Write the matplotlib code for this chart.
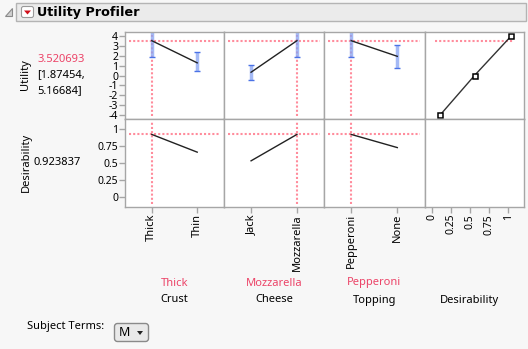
import matplotlib
matplotlib.use("Agg")
import matplotlib.pyplot as plt
from matplotlib.patches import Rectangle, FancyBboxPatch, Polygon

plt.rcParams['font.family'] = ['Noto Sans', 'DejaVu Sans']

W, H = 528, 349

# data
factors = ["Crust", "Cheese", "Topping"]
levels = [["Thick", "Thin"], ["Jack", "Mozzarella"], ["Pepperoni", "None"]]
current = ["Thick", "Mozzarella", "Pepperoni"]
util = [[3.52, 1.28], [0.33, 3.52], [3.52, 1.94]]
util_lo = [[1.87, 0.45], [-0.49, 1.87], [1.87, 0.79]]
util_hi = [[5.17, 2.35], [1.03, 5.17], [5.17, 3.06]]
desir = [[0.924, 0.664], [0.537, 0.924], [0.924, 0.731]]
pred_util = 3.520693
pred_ci = [1.87454, 5.16684]
pred_des = 0.923837
# desirability function (desirability -> utility)
dfun_x = [0.11, 0.56, 1.04]
dfun_y = [-4, 0, 4]
util_ticks = [4, 3, 2, 1, 0, -1, -2, -3, -4]
des_ticks = [0, 0.25, 0.5, 0.75, 1]

bg = "#f7f7f7"
grid = "#a6a6a6"
red = "#ec4468"
refc = "#ff8c9c"
bar_c = "#86a2f2"
cap_c = "#4a72e6"

fig = plt.figure(figsize=(W / 100, H / 100), dpi=100, facecolor=bg)


def px_axes(x0, y0, x1, y1):
    return fig.add_axes([x0 / W, 1 - y1 / H, (x1 - x0) / W, (y1 - y0) / H])


def style(ax):
    ax.set_facecolor("white")
    for s in ax.spines.values():
        s.set_color(grid)
        s.set_linewidth(1)
    ax.tick_params(colors=grid, labelcolor="black", length=4, width=1,
                   labelsize=7.5, pad=1)


cols = [(125, 224), (224, 324), (324, 424.5), (424.5, 524)]
rows = [(32, 119), (119, 207)]
ulim = (-4.4, 4.4)
dlim = (-0.14, 1.15)

for j in range(4):
    x0, x1 = cols[j]
    axu = px_axes(x0, rows[0][0], x1, rows[0][1])
    axd = px_axes(x0, rows[1][0], x1, rows[1][1])
    for ax in (axu, axd):
        style(ax)
    axu.set_ylim(*ulim)
    axd.set_ylim(*dlim)
    axu.set_xticks([])
    if j == 0:
        axu.set_yticks(util_ticks)
        axu.set_yticklabels([str(t) for t in util_ticks])
        axd.set_yticks(des_ticks)
        axd.set_yticklabels(["0", "0.25", "0.5", "0.75", "1"])
    else:
        axu.set_yticks([])
        axd.set_yticks([])

    if j < 3:
        xs = [0, 1]
        for ax in (axu, axd):
            ax.set_xlim(-0.59, 1.59)
        cur = levels[j].index(current[j])
        # utility row
        axu.axhline(pred_util, 0.04, 0.96, color=refc, lw=1.5, ls=(0, (1, 1)))
        axu.axvline(xs[cur], 0.03, 0.97, color=refc, lw=1.5, ls=(0, (1, 1)))
        axu.vlines(xs, util_lo[j], util_hi[j], color=bar_c, lw=2.5, alpha=0.75)
        axu.plot(xs, util_lo[j], ls="none", marker="_", ms=5, mew=1, color=cap_c)
        axu.plot(xs, util_hi[j], ls="none", marker="_", ms=5, mew=1, color=cap_c)
        axu.plot(xs, util[j], color="#222222", lw=1)
        # desirability row
        axd.axhline(pred_des, 0.04, 0.96, color=refc, lw=1.5, ls=(0, (1, 1)))
        axd.axvline(xs[cur], 0.03, 0.97, color=refc, lw=1.5, ls=(0, (1, 1)))
        axd.plot(xs, desir[j], color="#222222", lw=1)
        axd.set_xticks(xs)
        axd.set_xticklabels(levels[j], rotation=90, fontsize=8)
        cx = (x0 + x1) / 2
        fig.text(cx / W, 1 - 283 / H, current[j], color=red, fontsize=8,
                 ha="center", va="center")
        fig.text(cx / W, 1 - 300 / H, factors[j], color="black", fontsize=8,
                 ha="center", va="center")
    else:
        for ax in (axu, axd):
            ax.set_xlim(-0.094, 1.207)
        axu.plot([0.043, 1.076], [pred_util, pred_util], color=refc, lw=1.5,
                 ls=(0, (1, 1)))
        axu.plot(dfun_x, dfun_y, color="#333333", lw=1, marker="s", ms=3.6,
                 mfc="white", mec="black", mew=1.1, clip_on=False)
        axd.set_xticks(des_ticks)
        axd.set_xticklabels(["0", "0.25", "0.5", "0.75", "1"], rotation=90,
                            fontsize=7.5)
        fig.text(469 / W, 1 - 301 / H, "Desirability", fontsize=8,
                 ha="center", va="center")

# left labels
fig.text(26 / W, 1 - 75 / H, "Utility", rotation=90, fontsize=8,
         ha="center", va="center")
fig.text(37 / W, 1 - 59 / H, f"{pred_util:.6f}", color=red, fontsize=8,
         ha="left", va="center")
fig.text(37 / W, 1 - 75 / H, f"[{pred_ci[0]},", fontsize=8, ha="left", va="center")
fig.text(37 / W, 1 - 91 / H, f"{pred_ci[1]}]", fontsize=8, ha="left", va="center")
fig.text(26 / W, 1 - 162 / H, "Desirability", rotation=90, fontsize=8,
         ha="center", va="center")
fig.text(33 / W, 1 - 163 / H, f"{pred_des:.6f}", fontsize=8, ha="left", va="center")

# header bar
ov = fig.add_axes([0, 0, 1, 1], facecolor="none")
ov.set_xlim(0, W)
ov.set_ylim(H, 0)
ov.axis("off")
ov.add_patch(Rectangle((16, 3), 510, 18, facecolor="#ebebeb", edgecolor="#b4b4b4", lw=1))
ov.add_patch(Polygon([[12, 8], [12, 16], [5, 16]], closed=True, facecolor="#d0d0d0",
                     edgecolor="#8a8a8a", lw=0.8))
ov.add_patch(FancyBboxPatch((21.5, 6.5), 12, 11, boxstyle="round,pad=0,rounding_size=2",
                            facecolor="white", edgecolor="#9a9a9a", lw=0.8))
ov.add_patch(Polygon([[24, 10.5], [31, 10.5], [27.5, 14.5]], closed=True,
                     facecolor="#d0101c", edgecolor="none"))
ov.text(37, 12.5, "Utility Profiler", fontsize=9.2, fontweight="bold",
        family=["DejaVu Sans"], ha="left", va="center")

# subject terms dropdown
ov.text(27, 327, "Subject Terms:", fontsize=8, ha="left", va="center")
ov.add_patch(FancyBboxPatch((114.5, 323.5), 34, 18, boxstyle="round,pad=0,rounding_size=3",
                            facecolor="#e9e9e9", edgecolor="#8a8a8a", lw=1))
ov.text(119, 333, "M", fontsize=9, ha="left", va="center")
ov.add_patch(Polygon([[137, 331], [143, 331], [140, 335]], closed=True,
                     facecolor="#222222", edgecolor="none"))

fig.savefig("out.png", dpi=100, facecolor=bg)
